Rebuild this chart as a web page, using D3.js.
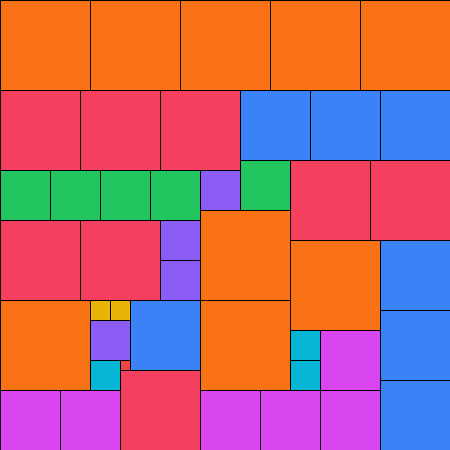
<!DOCTYPE html>
<html><head><meta charset="utf-8">
<script src="https://cdn.jsdelivr.net/npm/d3@7"></script>
<style>html,body{margin:0;padding:0;background:#fff;}svg{display:block;}</style>
</head><body>
<svg id="chart" width="450" height="450"></svg>
<script>
// square sizes in placement order
const squareSizes = [90,90,90,90,90, 80,80,80, 70,70,70, 50, 80,80, 50,50,50,50, 40, 90, 80,80, 40, 90, 70, 40,
  90, 20,20, 70, 90, 70, 40, 30, 60, 30, 30, 10, 80, 70, 60,60,60,60,60];
const sizeCategories = [90, 80, 70, 60, 50, 40, 30, 20, 10];
const sizeColors = ["#f97316","#f43f5e","#3b82f6","#d946ef","#22c55e","#8b5cf6","#06b6d4","#eab308","#ef4444"];
const binWidth = 450;

// skyline bottom-left packing
function pack(sizes, W) {
  let sky = [{x:0, w:W, y:0}];
  const out = [];
  sizes.forEach((s, i) => {
    let best = null;
    sky.forEach(seg => {
      const x = seg.x;
      if (x + s > W) return;
      let y = 0;
      sky.forEach(o => { if (o.x < x + s && o.x + o.w > x) y = Math.max(y, o.y); });
      if (!best || y < best.y || (y === best.y && x < best.x)) best = {x, y};
    });
    out.push({i, size: s, x: best.x, y: best.y});
    // update skyline
    const nx = best.x, nx2 = best.x + s, ny = best.y + s;
    const ns = [];
    sky.forEach(o => {
      const a = o.x, b = o.x + o.w;
      if (b <= nx || a >= nx2) { ns.push(o); return; }
      if (a < nx) ns.push({x:a, w:nx-a, y:o.y});
      if (b > nx2) ns.push({x:nx2, w:b-nx2, y:o.y});
    });
    ns.push({x:nx, w:s, y:ny});
    ns.sort((p,q)=>p.x-q.x);
    const merged = [];
    ns.forEach(o => {
      const l = merged[merged.length-1];
      if (l && l.y === o.y && l.x + l.w === o.x) l.w += o.w; else merged.push({...o});
    });
    sky = merged;
  });
  return out;
}

const placed = pack(squareSizes, binWidth);
const xs = d3.scaleLinear().domain([0, binWidth]).range([0, 450]);
const ys = d3.scaleLinear().domain([0, binWidth]).range([0, 450]);
const color = d3.scaleOrdinal().domain(sizeCategories).range(sizeColors);

d3.select("#chart").selectAll("rect").data(placed).join("rect")
  .attr("x", d => xs(d.x) + 0.5)
  .attr("y", d => ys(d.y) + 0.5)
  .attr("width", d => xs(d.size) - xs(0))
  .attr("height", d => ys(d.size) - ys(0))
  .attr("fill", d => color(d.size))
  .attr("stroke", "#000")
  .attr("stroke-width", 1);
</script>
</body></html>
